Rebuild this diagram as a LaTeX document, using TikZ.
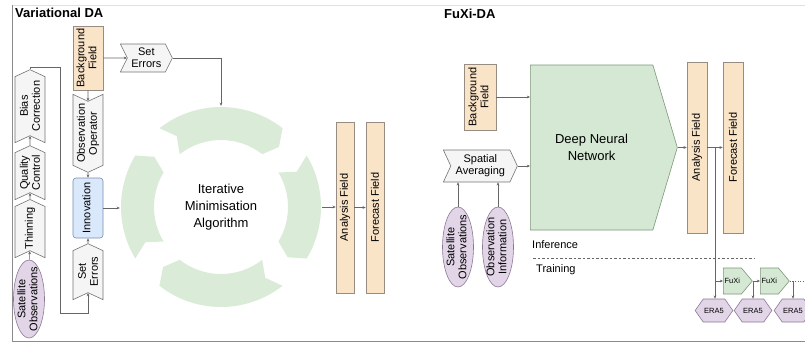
\documentclass[tikz,border=0pt]{standalone}
\usepackage{fontspec}
\setmainfont{Liberation Sans}
\usepackage{graphicx}
\usetikzlibrary{shapes.symbols,shapes.geometric,arrows.meta}
\definecolor{linegray}{RGB}{102,102,102}
\definecolor{chevfill}{RGB}{245,245,245}
\definecolor{chevdraw}{RGB}{115,115,115}
\definecolor{fieldfill}{RGB}{250,228,200}
\definecolor{fielddraw}{RGB}{150,140,130}
\definecolor{innofill}{RGB}{218,232,252}
\definecolor{innodraw}{RGB}{120,140,170}
\definecolor{obsfill}{RGB}{225,213,231}
\definecolor{obsdraw}{RGB}{140,120,150}
\definecolor{netfill}{RGB}{213,232,212}
\definecolor{netdraw}{RGB}{125,150,120}
\definecolor{ringfill}{RGB}{218,236,216}

\newcommand{\uptext}[1]{\rotatebox{90}{\begin{tabular}{@{}c@{}}#1\end{tabular}}}

\begin{document}
\begin{tikzpicture}[x=1pt,y=-1pt,
    every node/.style={font=\fontsize{11}{12}\selectfont, inner sep=1pt},
    line/.style={draw=linegray, line width=0.6pt},
    conn/.style={line, -{Stealth[length=3.2pt,width=2.8pt]}},
    chev/.style={signal, signal pointer angle=130, draw=chevdraw, fill=chevfill, line width=0.6pt, align=center},
    upchev/.style={chev, rotate=90, signal to=east, signal from=west, anchor=west, minimum height=30pt},
    downchev/.style={chev, rotate=90, signal to=west, signal from=east, anchor=east, minimum height=30pt},
    rightchev/.style={chev, signal to=east, signal from=west, anchor=west},
    field/.style={rectangle, draw=fielddraw, fill=fieldfill, line width=0.6pt},
    obs/.style={ellipse, draw=obsdraw, fill=obsfill, line width=0.6pt, inner xsep=-3pt, inner ysep=-8pt,
                minimum width=31pt, minimum height=78pt},
    net/.style={signal, signal to=east, draw=netdraw, fill=netfill, line width=0.6pt, anchor=west},
    era/.style={signal, signal to=east and west, signal pointer angle=110, draw=obsdraw, fill=obsfill, line width=0.6pt,
                minimum width=34pt, minimum height=23pt, font=\fontsize{7.5}{9}\selectfont},
    title/.style={font=\fontsize{13}{15}\selectfont\bfseries, anchor=west},
  ]
  \useasboundingbox (0,0) rectangle (805,343);
  % frame
  \draw[draw=black!12, line width=0.6pt] (12,5) -- (805,5);
  \draw[draw=black!45, line width=0.8pt] (12,5) -- (12,341) -- (805,341);

  % Variational DA
  \node[title] (vartitle) at (14,13) {Variational DA};

  % observation chain (chevrons placed by their notch)
  \node[obs] (sat1) at (29,299) {\uptext{Satellite\\Observations}};
  \node[upchev, minimum width=55pt] (thin) at (30,251) {Thinning};
  \node[upchev, minimum width=54pt] (qual) at (30,193) {Quality\\Control};
  \node[upchev, minimum width=73pt] (bias) at (30,136) {Bias\\Correction};

  % background chain
  \node[field, minimum width=30pt, minimum height=64pt] (bg1) at (88,58) {\uptext{Background\\Field}};
  \node[downchev, minimum width=78pt] (obsop) at (88,101) {Observation\\Operator};
  \node[rectangle, rounded corners=3pt, draw=innodraw, fill=innofill, line width=0.6pt,
        minimum width=30pt, minimum height=60pt] (innov) at (88,208) {\uptext{Innovation}};
  \node[upchev, minimum width=56pt] (seterr2) at (88,293) {Set\\Errors};
  \node[rightchev, signal pointer angle=127, minimum width=52pt, minimum height=28pt] (seterr1) at (127,58) {Set\\Errors};

  % minimisation ring
  \node[circle, minimum size=202pt, inner sep=0pt, font=\fontsize{13}{17}\selectfont, align=center] (ring) at (221,207) {Iterative\\Minimisation\\Algorithm};
  \begin{scope}[shift={(ring.center)}]
    % top
    \fill[ringfill] (-128:100) arc[start angle=-128, end angle=-52, radius=100] -- (-46:83.5) -- (-52:67) arc[start angle=-52, end angle=-128, radius=67] -- (-122:83.5) -- cycle;
    % right
    \fill[ringfill] (-31:100) arc[start angle=-31, end angle=31, radius=100] -- (37:83.5) -- (31:67) arc[start angle=31, end angle=-31, radius=67] -- (-25:83.5) -- cycle;
    % bottom
    \fill[ringfill] (52:100) arc[start angle=52, end angle=128, radius=100] -- (134:83.5) -- (128:67) arc[start angle=128, end angle=52, radius=67] -- (58:83.5) -- cycle;
    % left
    \fill[ringfill] (149:100) arc[start angle=149, end angle=211, radius=100] -- (217:83.5) -- (211:67) arc[start angle=211, end angle=149, radius=67] -- (155:83.5) -- cycle;
  \end{scope}

  \node[field, minimum width=18pt, minimum height=171pt] (an1) at (345,207.5) {\rotatebox{90}{Analysis Field}};
  \node[field, minimum width=18pt, minimum height=171pt] (fc1) at (375,207.5) {\rotatebox{90}{Forecast Field}};

  % connectors (left)
  \coordinate (loopA) at (60,67);
  \coordinate (loopB) at (60,313);
  \draw[conn] (sat1) -- (thin);
  \draw[conn] (thin) -- (qual);
  \draw[conn] (qual) -- (bias);
  \draw[conn] (bias.east) |- (loopA) -- (loopB) -| (seterr2.west);
  \draw[conn] (bg1) -- (obsop);
  \draw[conn] (obsop) -- (innov);
  \draw[conn] (seterr2) -- (innov);
  \draw[conn] (bg1) -- (seterr1);
  \draw[conn] (seterr1.east) -| (ring.north);
  \draw[conn] (innov.east) -- (innov.east -| ring.west);
  \draw[conn] (ring.east) -- (ring.east -| an1.west);
  \draw[conn] (an1) -- (fc1);

  % FuXi-DA
  \node[title] (fuxititle) at (443,14) {FuXi-DA};
  \node[field, minimum width=32pt, minimum height=66pt] (bg2) at (480,97) {\uptext{Background\\Field}};
  \node[net, signal pointer angle=147, minimum width=147pt, minimum height=165pt,
        font=\fontsize{13}{17}\selectfont, align=center] (dnn) at (530,147.5) {Deep Neural\\Network};
  \node[rightchev, minimum width=74pt, minimum height=32pt] (spatial) at (450.5,166) {Spatial\\Averaging};
  \node[obs, minimum height=80pt] (sat2) at (458,247) {\uptext{Satellite\\Observations}};
  \node[obs, minimum height=80pt] (obsinfo) at (498,247) {\uptext{Observation\\Information}};
  \node[anchor=west] (inference) at (531,245) {Inference};
  \node[anchor=west] (training) at (535,270) {Training};
  \coordinate (dashL) at (533,258);
  \coordinate (dashR) at (755,258);
  \draw[line, dash pattern=on 2.5pt off 2pt] (dashL) -- (dashR);

  \node[field, minimum width=20pt, minimum height=171pt] (an2) at (697,147.5) {\rotatebox{90}{Analysis Field}};
  \node[field, minimum width=20pt, minimum height=171pt] (fc2) at (733,147.5) {\rotatebox{90}{Forecast Field}};

  % training roll-out
  \node[net, signal pointer angle=100, minimum width=29pt, minimum height=26pt, font=\fontsize{7.5}{9}\selectfont] (fuxi1) at (723,281) {FuXi};
  \node[net, signal pointer angle=100, minimum width=29pt, minimum height=26pt, font=\fontsize{7.5}{9}\selectfont] (fuxi2) at (760,281) {FuXi};
  \node[era] (era1) at (714,310.5) {ERA5};
  \node[era] (era2) at (753,310.5) {ERA5};
  \node[era] (era3) at (793,310.5) {ERA5};
  \coordinate (split) at (715,147.5);
  \coordinate (more) at (808,281);

  % connectors (right)
  \draw[conn] (bg2.east) -- (bg2.east -| dnn.west);
  \draw[conn] (spatial.east) -- (spatial.east -| dnn.west);
  \draw[conn] (sat2.north) -- (sat2.north |- spatial.south);
  \draw[conn] (obsinfo.north) -- (obsinfo.north |- spatial.south);
  \draw[conn] (dnn.east) -- (dnn.east -| an2.west);
  \draw[conn] (an2) -- (fc2);
  \draw[conn] (split) -- (split |- era1.north);
  \draw[conn] (split |- fuxi1.west) -- (fuxi1.west);
  \draw[conn] (fuxi1.east) -- (fuxi2.west);
  \draw[conn] (era2.north |- fuxi1.east) -- (era2.north);
  \draw[conn] (era3.north |- fuxi2.east) -- (era3.north);
  \draw[line, dotted, line width=0.9pt] (fuxi2.east) -- (more);
\end{tikzpicture}
\end{document}
